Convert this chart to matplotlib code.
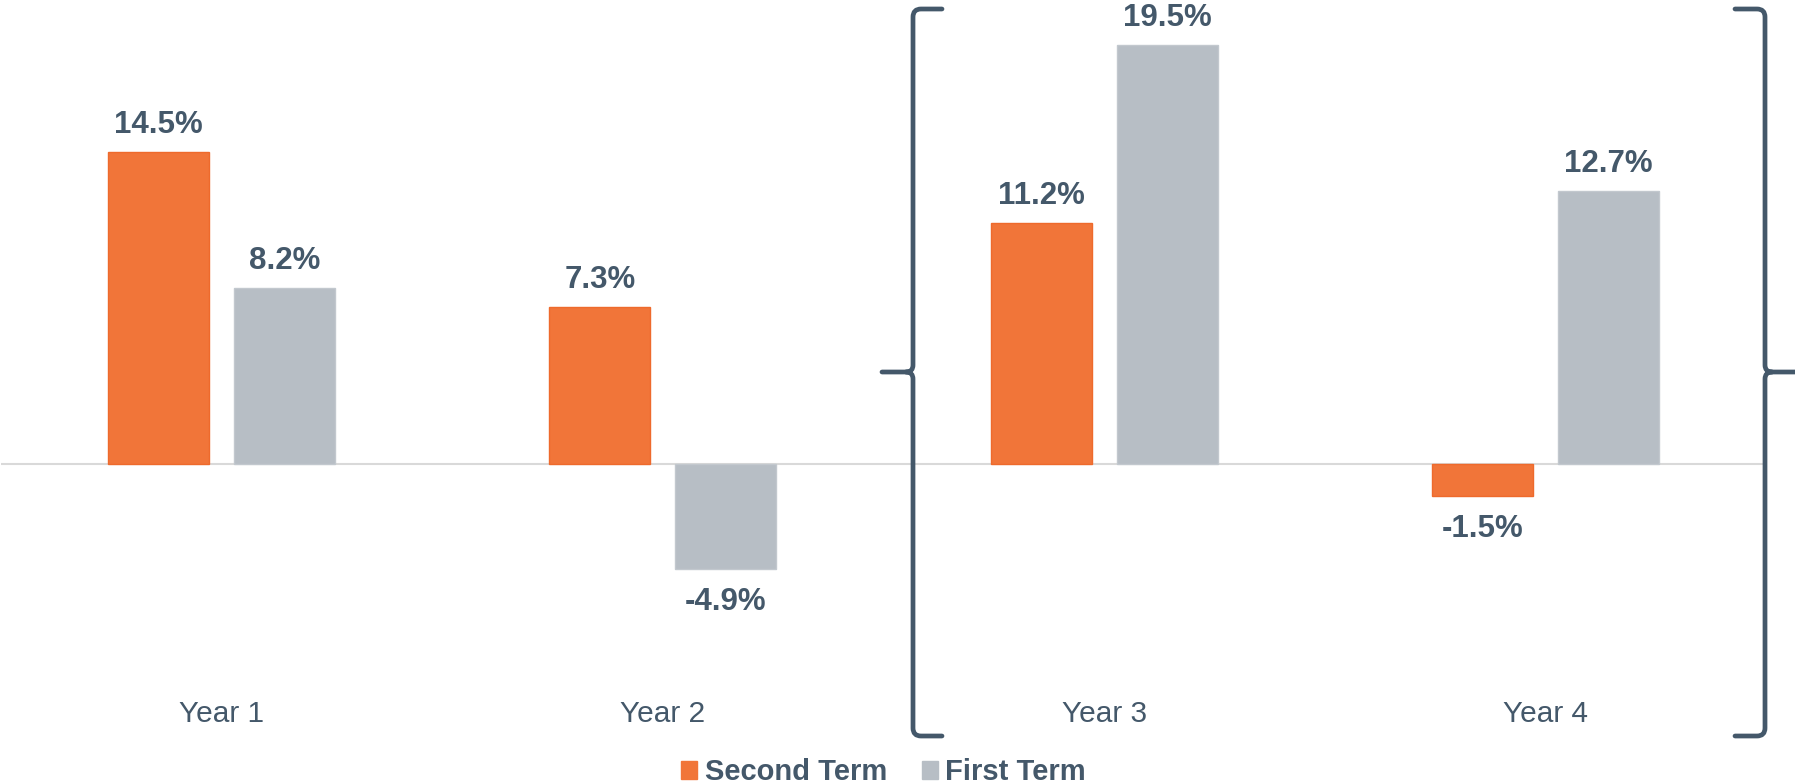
import matplotlib
matplotlib.use("Agg")
import matplotlib.pyplot as plt
import numpy as np
from matplotlib.path import Path
from matplotlib.patches import PathPatch, Patch

plt.rcParams["font.family"] = ["Liberation Sans", "DejaVu Sans"]

# data
years = ["Year 1", "Year 2", "Year 3", "Year 4"]
second_term = [14.5, 7.3, 11.2, -1.5]
first_term = [8.2, -4.9, 19.5, 12.7]
series_names = ["Second Term", "First Term"]

ORANGE = "#F17539"
ORANGE_EDGE = "#EE6A2C"
GRAY = "#B7BEC5"
GRAY_EDGE = "#C2C8CE"
INK = "#44586A"
ZERO = "#D9D9D9"

W, H = 1795, 784
fig = plt.figure(figsize=(W / 100, H / 100), dpi=100)

# axes box in pixels (from top-left)
ax_left, ax_right, ax_top, ax_bottom = 1, 1766, 0, 700
ax = fig.add_axes([ax_left / W, 1 - ax_bottom / H,
                   (ax_right - ax_left) / W, (ax_bottom - ax_top) / H])

zero_px = 464
px_per_unit = 21.5
ax.set_ylim(-(ax_bottom - zero_px) / px_per_unit, (zero_px - ax_top) / px_per_unit)
ax.set_xlim(-0.5, len(years) - 0.5)

x = np.arange(len(years))
width = 0.229
offset = 0.143
bars_a = ax.bar(x - offset, second_term, width, color=ORANGE,
                edgecolor=ORANGE_EDGE, linewidth=1, zorder=2)
bars_b = ax.bar(x + offset, first_term, width, color=GRAY,
                edgecolor=GRAY_EDGE, linewidth=1, zorder=2)

ax.axhline(0, color=ZERO, lw=1.5, zorder=1)

for bars in (bars_a, bars_b):
    for b in bars:
        v = b.get_height()
        cx = b.get_x() + b.get_width() / 2
        if v >= 0:
            ax.annotate(f"{v:.1f}%", (cx, v), xytext=(0, 8.5),
                        textcoords="offset points", ha="center", va="bottom",
                        fontsize=22.5, fontweight="bold", color=INK)
        else:
            ax.annotate(f"{v:.1f}%", (cx, v), xytext=(0, -13),
                        textcoords="offset points", ha="center", va="top",
                        fontsize=22.5, fontweight="bold", color=INK)

ax.set_xticks(x)
ax.set_xticklabels(years, fontsize=21.5, color=INK)
ax.tick_params(axis="x", length=0, pad=0)
ax.set_yticks([])
for s in ax.spines.values():
    s.set_visible(False)


# curly brackets around years 3-4 (pixel coords from top-left)
def to_fig(pts):
    return [(px / W, 1 - py / H) for px, py in pts]


def bracket(xv, xarm, xtip, ytop, ybot, ytip, r=8, k=7):
    d = 1 if xarm > xv else -1   # direction of the arms
    t = -d                        # direction of the tip
    verts = [(xarm, ytop), (xv + d * r, ytop), (xv, ytop), (xv, ytop + r),
             (xv, ytip - k), (xv, ytip), (xv + t * k, ytip), (xtip, ytip),
             (xv + t * k, ytip), (xv, ytip), (xv, ytip + k),
             (xv, ybot - r), (xv, ybot), (xv + d * r, ybot), (xarm, ybot)]
    codes = [Path.MOVETO, Path.LINETO, Path.CURVE3, Path.CURVE3,
             Path.LINETO, Path.CURVE3, Path.CURVE3, Path.LINETO,
             Path.MOVETO, Path.CURVE3, Path.CURVE3,
             Path.LINETO, Path.CURVE3, Path.CURVE3, Path.LINETO]
    path = Path(to_fig(verts), codes)
    fig.add_artist(PathPatch(path, transform=fig.transFigure, fill=False,
                             edgecolor=INK, lw=3.4, capstyle="round",
                             joinstyle="round"))


bracket(913, 942, 882, 9, 736, 372)
bracket(1765, 1735, 1795, 9, 736, 372)

handles = [Patch(facecolor=ORANGE, edgecolor=ORANGE),
           Patch(facecolor=GRAY, edgecolor=GRAY)]
fig.legend(handles, series_names, loc="center",
           bbox_to_anchor=((ax_left + ax_right) / 2 / W, 12 / H),
           ncol=2, frameon=False, handlelength=0.56, handleheight=0.56,
           handletextpad=0.25, columnspacing=1.2,
           prop={"size": 21, "weight": "bold"}, labelcolor=INK)

fig.savefig("out.png", dpi=100)
